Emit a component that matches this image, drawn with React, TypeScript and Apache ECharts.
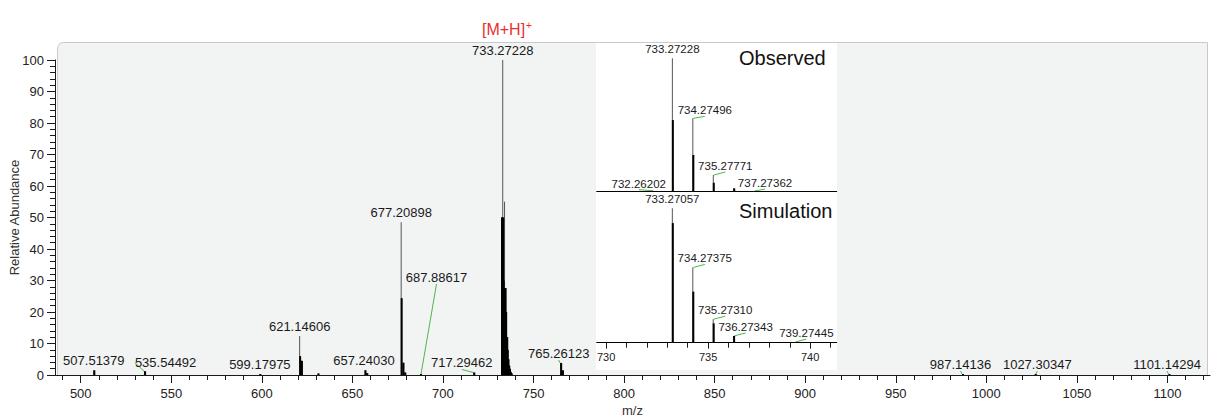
import React, { useEffect, useRef } from "react";
import * as echarts from "echarts";

// ---------- data ----------
// Full mass spectrum: m/z, total height (thin line), height of the dense (black) profile part
const mainMz = [507.51379, 535.54492, 599.17975, 621.14606, 622.15, 631.3, 657.2403, 658.24, 677.20898, 678.21, 679.21, 687.88617, 717.29462, 732.6, 733.0, 733.27228, 733.5, 733.8, 734.0, 734.27, 734.6, 734.9, 735.2, 735.5, 735.8, 736.2, 736.6, 737.0, 737.5, 738.0, 765.26123, 766.26, 987.14136, 1027.30347, 1101.14294];
const mainTotal = [1.5, 1.2, 0.3, 12.4, 4.5, 0.5, 1.5, 0.6, 48.5, 3.9, 0.8, 0.3, 0.8, 50, 50, 100, 30, 27.6, 27.6, 55, 27.6, 20, 12, 12, 8, 5, 3, 2, 1, 0.5, 3.8, 1.5, 0.3, 0.3, 0.3];
const mainCore = [1.5, 1.2, 0.3, 6, 4.5, 0.5, 1.5, 0.6, 24.4, 3.9, 0.8, 0.3, 0.8, 50, 50, 50, 30, 27.6, 27.6, 27.6, 27.6, 20, 12, 12, 8, 5, 3, 2, 1, 0.5, 3.8, 1.5, 0.3, 0.3, 0.3];
const mainLabeled = [507.51379, 535.54492, 599.17975, 621.14606, 657.2403, 677.20898, 687.88617, 717.29462, 733.27228, 765.26123, 987.14136, 1027.30347, 1101.14294];

// Inset: observed isotope pattern
const obsMz = [732.26202, 733.27228, 734.27496, 735.27771, 736.28, 737.27362];
const obsTotal = [0.8, 100, 55, 12.5, 2.5, 0.5];
const obsCore = [0.8, 53.7, 27.5, 6.7, 2.5, 0.5];
const obsLabeled = [732.26202, 733.27228, 734.27496, 735.27771, 737.27362];

// Inset: simulated isotope pattern
const simMz = [733.27057, 734.27375, 735.2731, 736.27343, 739.27445];
const simTotal = [100, 56, 17.5, 5, 0.5];
const simCore = [89, 38, 14.4, 5, 0.5];
const simLabeled = [733.27057, 734.27375, 735.2731, 736.27343, 739.27445];

// tick values
const xMajorTicks = [500, 550, 600, 650, 700, 750, 800, 850, 900, 950, 1000, 1050, 1100];
const xMinorTicks: number[] = [];
for (let v = 490; v <= 1120; v += 10) xMinorTicks.push(v);
const insetMajorTicks = [730, 735, 740];
const insetMinorTicks = [730, 731, 732, 733, 734, 735, 736, 737, 738, 739, 740, 741];

// ---------- layout (label shifts in px) ----------
const mainShift = [[0, 0], [21, 1], [0, 0], [0, 0], [-1, 0], [0, 0], [16, -87], [-12, 0], [0, 0], [-2, 0], [-2, 0], [2, 0], [-2, 0]];
const obsShift = [[-13, 2], [0, 0], [12, 1], [12, 0], [11, 1]];
const simShift = [[0, 0], [12, 0], [12, 0], [12, 0], [11.5, 0]];

const FONT = "'Liberation Sans', Arial, sans-serif";
const GREEN = "#4cb84c";

function buildItems(mz: number[], total: number[], labeled: number[], shifts: number[][], fontSize: number) {
  const shiftByIndex: (number[] | null)[] = [];
  const items = mz.map((m, i) => {
    const li = labeled.indexOf(m);
    if (li < 0) {
      shiftByIndex.push(null);
      return { value: [m, total[i]] };
    }
    const s = shifts[li];
    shiftByIndex.push(s);
    const moved = Math.abs(s[0]) > 1 || Math.abs(s[1]) > 2;
    return {
      value: [m, total[i]],
      label: { show: true, formatter: m.toFixed(5), fontSize },
      labelLine: { show: moved },
    };
  });
  return { items, shiftByIndex };
}

function spectrumSeries(
  mz: number[], total: number[], core: number[], labeled: number[], shifts: number[][],
  axisIdx: number, yIdx: number, fontSize: number, z: number
) {
  const { items, shiftByIndex } = buildItems(mz, total, labeled, shifts, fontSize);
  return [
    {
      type: "bar",
      xAxisIndex: axisIdx,
      yAxisIndex: yIdx,
      z,
      barWidth: 1,
      barGap: "-100%",
      itemStyle: { color: "#555" },
      label: { show: false, position: "top", distance: 3, color: "#1a1a1a", fontFamily: FONT },
      labelLine: { show: false, lineStyle: { color: GREEN, width: 1 } },
      labelLayout: (p: any) => {
        const s = shiftByIndex[p.dataIndex];
        return s ? { dx: s[0], dy: s[1] } : {};
      },
      data: items,
    },
    {
      type: "bar",
      xAxisIndex: axisIdx,
      yAxisIndex: yIdx,
      z,
      barWidth: 2,
      barGap: "-100%",
      itemStyle: { color: "#000" },
      data: mz.map((m, i) => [m, core[i]]),
    },
  ];
}

const MAIN_MIN = 485.8;
const MAIN_MAX = 1123.5;
const IN_MIN = 729.54;
const IN_MAX = 741.3;

export default function App() {
  const ref = useRef<HTMLDivElement>(null);
  useEffect(() => {
    document.body.style.margin = "0";
    const chart = echarts.init(ref.current!, undefined, { renderer: "svg" });
    const axisColor = "#1a1a1a";
    const plain = (v: number) => String(v);
    const option: any = {
      animation: false,
      textStyle: { fontFamily: FONT },
      title: {
        text: "{a|[M+H]}{b|+}",
        left: 477,
        top: 15,
        textStyle: {
          fontWeight: "normal",
          rich: {
            a: { fontSize: 16, color: "#e8302f", fontFamily: FONT, fontWeight: "normal" },
            b: { fontSize: 10, color: "#e8302f", fontFamily: FONT, fontWeight: "normal", verticalAlign: "top", padding: [0, 0, 8, 1] },
          },
        },
      },
      grid: [
        { left: 55, right: 1, top: 60, height: 315, outerBoundsMode: "none", containLabel: false },
        { left: 596.7, width: 240, top: 58.3, height: 133.4, outerBoundsMode: "none", containLabel: false },
        { left: 596.7, width: 240, top: 208.3, height: 134.4, outerBoundsMode: "none", containLabel: false },
      ],
      xAxis: [
        {
          type: "value", gridIndex: 0, min: MAIN_MIN, max: MAIN_MAX, position: "bottom",
          name: "m/z", nameLocation: "middle", nameGap: 29, nameMoveOverlap: false,
          nameTextStyle: { fontSize: 13, color: "#333", fontFamily: FONT },
          axisLine: { show: true, lineStyle: { color: axisColor, width: 1 } },
          axisTick: { show: true, length: 8, customValues: xMajorTicks, lineStyle: { color: axisColor } },
          axisLabel: { customValues: xMajorTicks, fontSize: 13, color: "#222", margin: 12, formatter: plain },
          splitLine: { show: false },
        },
        {
          type: "value", gridIndex: 0, min: MAIN_MIN, max: MAIN_MAX, position: "bottom",
          axisLine: { show: false },
          axisTick: { show: true, length: 5, customValues: xMinorTicks, lineStyle: { color: axisColor } },
          axisLabel: { show: false },
          splitLine: { show: false },
        },
        {
          type: "value", gridIndex: 1, min: IN_MIN, max: IN_MAX, z: 10, position: "bottom",
          axisLine: { show: true, lineStyle: { color: "#000", width: 1 } },
          axisTick: { show: false },
          axisLabel: { show: false },
          splitLine: { show: false },
        },
        {
          type: "value", gridIndex: 2, min: IN_MIN, max: IN_MAX, z: 10, position: "bottom",
          axisLine: { show: true, lineStyle: { color: "#000", width: 1 } },
          axisTick: { show: true, length: 6, customValues: insetMajorTicks, lineStyle: { color: axisColor } },
          axisLabel: { customValues: insetMajorTicks, fontSize: 11, color: "#222", margin: 9, formatter: plain },
          splitLine: { show: false },
        },
        {
          type: "value", gridIndex: 2, min: IN_MIN, max: IN_MAX, z: 10, position: "bottom",
          axisLine: { show: false },
          axisTick: { show: true, length: 5, customValues: insetMinorTicks, lineStyle: { color: axisColor } },
          axisLabel: { show: false },
          splitLine: { show: false },
        },
      ],
      yAxis: [
        {
          type: "value", gridIndex: 0, min: 0, max: 100, interval: 10,
          name: "Relative Abundance", nameLocation: "middle", nameGap: 34, nameRotate: 90, nameMoveOverlap: false,
          nameTextStyle: { fontSize: 13, color: "#333", fontFamily: FONT },
          axisLine: { show: true, lineStyle: { color: axisColor } },
          axisTick: { show: true, length: 8, lineStyle: { color: axisColor } },
          minorTick: { show: true, splitNumber: 5, length: 5, lineStyle: { color: axisColor } },
          axisLabel: { fontSize: 13, color: "#222", margin: 11 },
          splitLine: { show: false },
          minorSplitLine: { show: false },
        },
        { type: "value", gridIndex: 1, min: 0, max: 100, show: false },
        { type: "value", gridIndex: 2, min: 0, max: 100, show: false },
      ],
      graphic: [
        {
          type: "rect", z: -1, silent: true,
          shape: { x: 57.5, y: 42.5, width: 1150, height: 333, r: [6, 0, 0, 0] },
          style: { fill: "#f2f3f3", stroke: "#c9c9c9", lineWidth: 1 },
        },
        {
          type: "rect", z: 5, silent: true,
          shape: { x: 596, y: 43, width: 241, height: 327 },
          style: { fill: "#ffffff" },
        },
        {
          type: "text", z: 20, left: 739, top: 48,
          style: { text: "Observed", fontSize: 20, fill: "#111", fontFamily: FONT },
        },
        {
          type: "text", z: 20, left: 739, top: 201,
          style: { text: "Simulation", fontSize: 20, fill: "#111", fontFamily: FONT },
        },
      ],
      series: [
        ...spectrumSeries(mainMz, mainTotal, mainCore, mainLabeled, mainShift, 0, 0, 13, 2),
        ...spectrumSeries(obsMz, obsTotal, obsCore, obsLabeled, obsShift, 2, 1, 11.5, 10),
        ...spectrumSeries(simMz, simTotal, simCore, simLabeled, simShift, 3, 2, 11.5, 10),
      ],
    };
    chart.setOption(option);
    return () => chart.dispose();
  }, []);
  return (
    <div
      ref={ref}
      style={{ position: "fixed", left: 0, top: 0, width: 1211, height: 420, background: "#fff" }}
    />
  );
}
